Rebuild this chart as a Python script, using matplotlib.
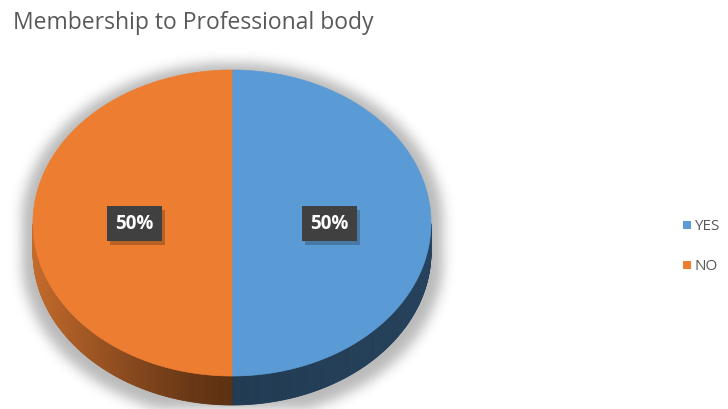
import numpy as np
import matplotlib
matplotlib.use("Agg")
import matplotlib.pyplot as plt
from matplotlib.patches import Polygon, Rectangle

# pie data
labels = ["YES", "NO"]
values = [50, 50]
top_colors = ["#5b9bd5", "#ed7d31"]
side_dark = ["#213b53", "#5c3012"]     # side colour at the front centre
side_light = ["#27425c", "#c46b2c"]    # side colour towards the outer edge

title = "Membership to Professional body"

W, H = 728, 409
cx, cy = 232, 223          # centre of the top face (pixels)
a, b = 199, 153            # ellipse semi-axes
depth = 29                 # thickness of the disc

plt.rcParams['font.family'] = ['Open Sans', 'DejaVu Sans']
fig = plt.figure(figsize=(W / 100, H / 100), dpi=100)
ax = fig.add_axes([0, 0, 1, 1])
ax.set_xlim(0, W)
ax.set_ylim(H, 0)
ax.axis("off")


def pt(theta, dy=0.0):
    return cx + a * np.cos(theta), cy - b * np.sin(theta) + dy


# soft drop shadow under the disc
yy, xx = np.mgrid[0:H, 0:W].astype(float)
mask = np.zeros((H, W))
for t in np.linspace(0, depth + 6, 24):
    inside = ((xx - cx) / (a + 12)) ** 2 + ((yy - cy - t) / (b + 8)) ** 2 <= 1
    mask[inside] = 1.0
k = np.exp(-0.5 * (np.arange(-25, 26) / 6.0) ** 2)
k /= k.sum()
mask = np.apply_along_axis(lambda r: np.convolve(r, k, mode="same"), 1, mask)
mask = np.apply_along_axis(lambda c: np.convolve(c, k, mode="same"), 0, mask)
shadow = np.zeros((H, W, 4))
shadow[..., :3] = 0.2
shadow[..., 3] = 0.34 * mask
ax.imshow(shadow, extent=[0, W, H, 0], zorder=0, interpolation="bilinear")

# wedge angles, clockwise from 12 o'clock
fracs = np.array(values, dtype=float) / sum(values)
starts = np.pi / 2 - 2 * np.pi * np.concatenate([[0], np.cumsum(fracs)[:-1]])
ends = starts - 2 * np.pi * fracs

# side of the disc (only the front half is visible)
for i in range(len(values)):
    th = np.linspace(starts[i], ends[i], 400)
    th = th[np.sin(th) <= 0]
    for t1, t2 in zip(th[:-1], th[1:]):
        x1, y1 = pt(t1)
        x2, y2 = pt(t2)
        f = min(1.0, abs((x1 + x2) / 2 - cx) / a)
        c0 = np.array(matplotlib.colors.to_rgb(side_dark[i]))
        c1 = np.array(matplotlib.colors.to_rgb(side_light[i]))
        col = c0 + (c1 - c0) * f ** 1.3
        ax.add_patch(Polygon([(x1, y1), (x2, y2), (x2, y2 + depth), (x1, y1 + depth)],
                             closed=True, fc=col, ec=col, lw=0.6, zorder=2))

# top face
for i in range(len(values)):
    th = np.linspace(starts[i], ends[i], 300)
    xs, ys = pt(th)
    verts = [(cx, cy)] + list(zip(xs, ys))
    ax.add_patch(Polygon(verts, closed=True, fc=top_colors[i], ec=top_colors[i],
                         lw=0.5, zorder=3))

# percentage labels in dark boxes
bw, bh = 55, 35
for i in range(len(values)):
    mid = (starts[i] + ends[i]) / 2
    lx = cx + 0.49 * a * np.cos(mid)
    ly = cy - 0.49 * b * np.sin(mid)
    ax.add_patch(Rectangle((lx - bw / 2 + 3, ly - bh / 2 + 4), bw, bh,
                           fc="black", ec="none", alpha=0.22, zorder=4))
    ax.add_patch(Rectangle((lx - bw / 2, ly - bh / 2), bw, bh,
                           fc="#404040", ec="none", zorder=5))
    ax.text(lx, ly + 1, f"{values[i] / sum(values):.0%}", color="white",
            fontsize=13.5, fontweight="bold", ha="center", va="center", zorder=6)

# legend
for i, lab in enumerate(labels):
    ly = 225 + 40 * i
    ax.add_patch(Rectangle((683, ly - 4), 8, 8, fc=top_colors[i], ec="none", zorder=5))
    ax.text(694, ly + 1, lab, color="#595959", fontsize=11, ha="left", va="center")

ax.text(13, 23, title, color="#595959", fontsize=16.5, ha="left", va="center")

fig.savefig("out.png", dpi=100, facecolor="white")
